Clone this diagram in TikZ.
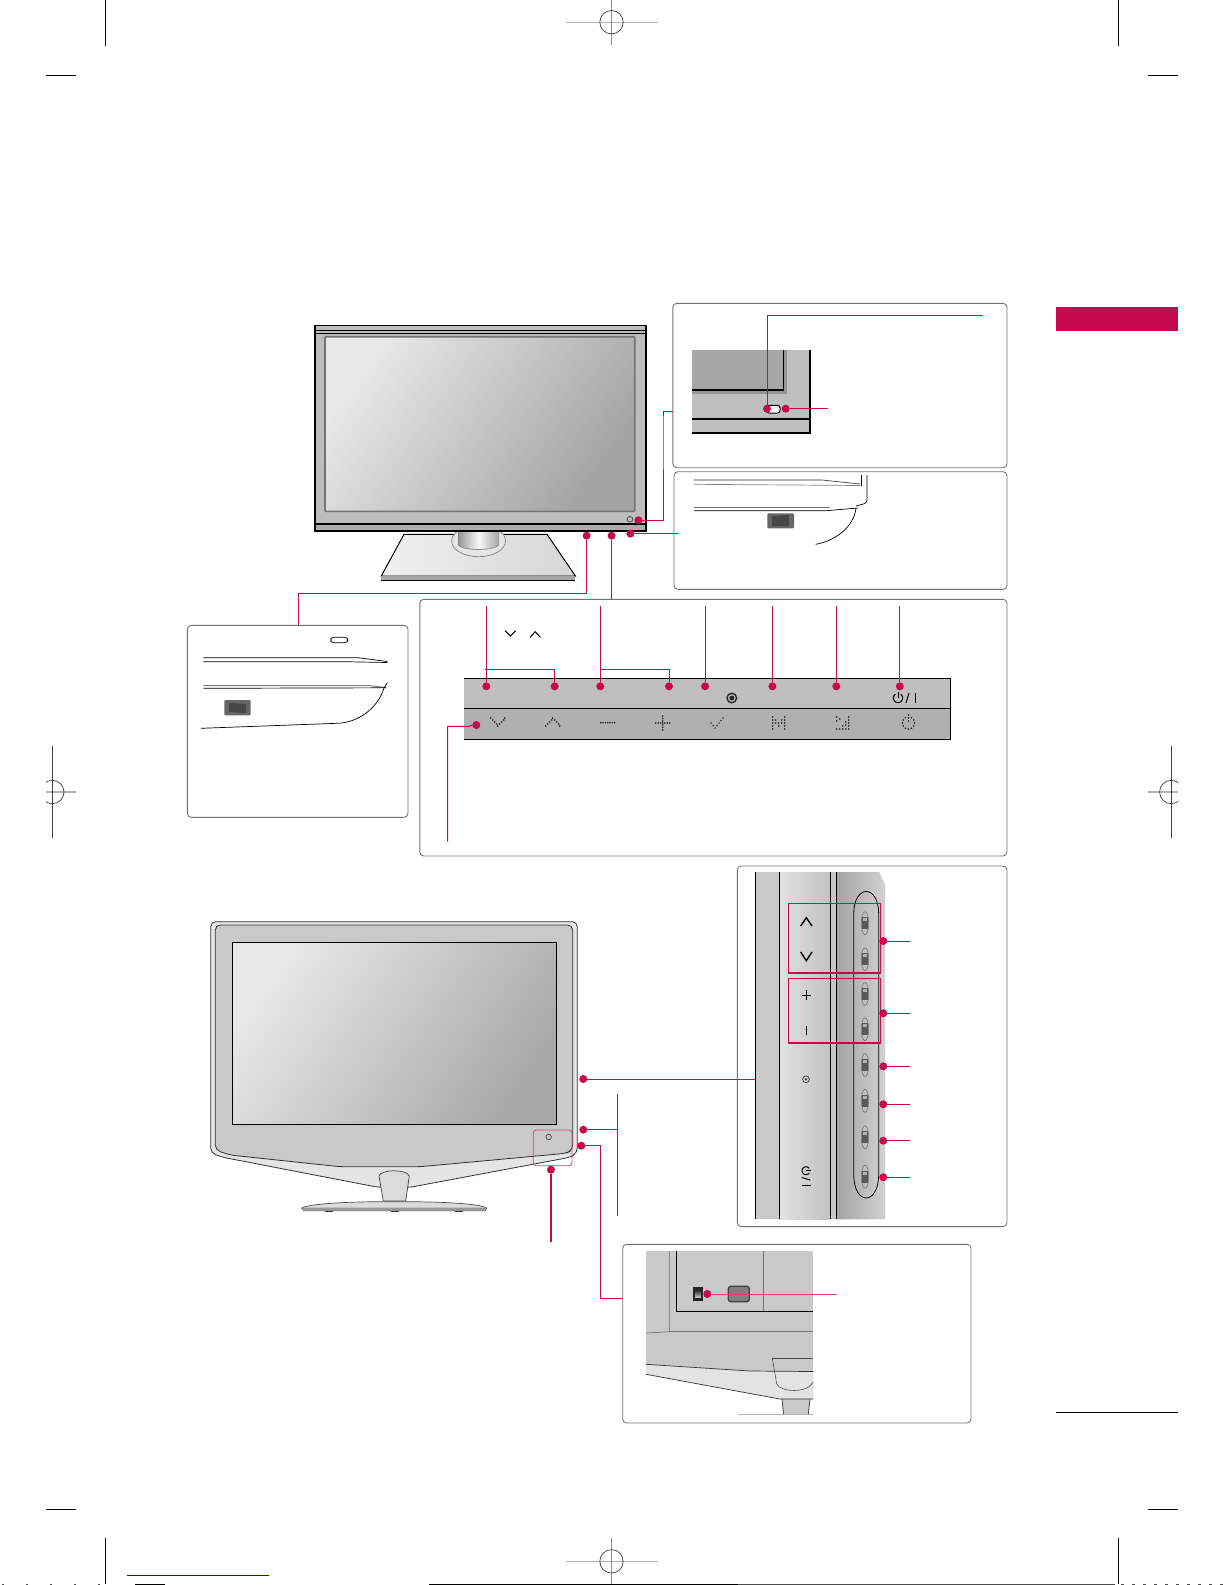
\documentclass[tikz,border=0pt]{standalone}
\definecolor{lgred}{HTML}{C60A4E}
\tikzset{
  panelbox/.style = {shape=rectangle, draw=black!55, rounded corners=4pt,
                     line width=0.9pt, inner sep=0pt, outer sep=0pt,
                     anchor=north west},
  dot/.style      = {shape=circle, fill=lgred, inner sep=0pt, outer sep=0pt,
                     minimum size=8pt},
  leader/.style   = {draw=lgred, line width=1pt},
  thinline/.style = {draw=black, line width=0.7pt},
  trimline/.style = {draw=black!75, line width=1pt},
  regline/.style  = {draw=black!30, line width=1.2pt}
}
\newcommand{\icondots}[1]{\foreach \p in {#1} \fill[black!90] \p circle (0.85);}
\newcommand{\powerglyph}{
  \draw[line width=1pt, domain=35:325, samples=24, smooth]
    plot ({4.6*sin(\x)},{-4.6*cos(\x)});
  \draw[line width=1pt] (0,-5.6) -- (0,0);
  \draw[line width=1pt] (8,5) -- (11,-5);
  \draw[line width=1.2pt] (17.3,-5.5) -- (17.3,5);
}
\begin{document}
\begin{tikzpicture}[x=1pt, y=-1pt]
  \useasboundingbox (0,0) rectangle (1225,1585);

  % trim and registration marks
  \foreach \x in {105.3,1118.3} {
    \draw[draw=black, line width=0.9pt] (\x,0) -- (\x,45.7);
    \draw[draw=black, line width=0.9pt] (\x,1538) -- (\x,1584);
  }
  \foreach \y in {75.7,1509.3} {
    \draw[draw=black, line width=0.9pt] (46,\y) -- (76,\y);
    \draw[draw=black, line width=0.9pt] (1148,\y) -- (1178,\y);
  }
  \foreach \y in {22.2,1561.3} {
    \draw[regline] (566,\y) -- (658,\y);
    \draw[draw=black!45, line width=0.7pt] (611.5,\y-23) -- (611.5,\y+23);
    \draw[draw=black!75, line width=0.7pt] (611.5,\y) circle (11.7);
  }
  \draw[regline] (46,792) -- (75.7,792);
  \draw[regline] (1148.3,792) -- (1177.7,792);
  \draw[trimline] (52.3,746) -- (52.3,837.7);
  \draw[trimline] (1171.3,746) -- (1171.3,837.7);
  \begin{scope}
    \clip (46,770) rectangle (70,815);
    \draw[draw=black!75, line width=0.7pt] (52.3,792) circle (11.7);
  \end{scope}
  \begin{scope}
    \clip (1150,770) rectangle (1178,815);
    \draw[draw=black!75, line width=0.7pt] (1171.3,792) circle (11.7);
  \end{scope}
  \draw[draw=blue, line width=1pt] (127,1575.3) -- (268.7,1575.3);
  \draw[draw=black, line width=1pt] (429,1584.5) -- (738,1584.5);
  \draw[draw=black!70, line width=1pt] (738,1584.5) -- (1115,1584.5);
  \draw[draw=black, line width=1pt] (135,1584.5) -- (165,1584.5);
  \draw[draw=black!70, line width=1pt, dash pattern=on 2pt off 22pt] (2,1584.5) -- (105,1584.5);
  \draw[draw=black!70, line width=1pt, dash pattern=on 3pt off 8pt] (1121,1584.5) -- (1225,1584.5);

  % page tab and footer rule
  \fill[lgred] (1056,307) rectangle (1178,330.5);
  \draw[draw=black, line width=0.8pt] (1056,1412.5) -- (1178,1412.5);

  % frames
  \node[panelbox, minimum width=334.2pt, minimum height=164.4pt] (boxled) at (672.8,303.3) {};
  \node[panelbox, minimum width=333pt, minimum height=117.6pt] (boxsw) at (674,471.7) {};
  \node[panelbox, minimum width=587.2pt, minimum height=256.7pt] (boxkeys) at (419.8,599.3) {};
  \node[panelbox, minimum width=220.7pt, minimum height=192pt] (boxleft) at (187.3,625.3) {};
  \node[panelbox, minimum width=269.7pt, minimum height=360.6pt] (boxside) at (737.3,866) {};
  \node[panelbox, minimum width=348.3pt, minimum height=178.7pt] (boxrear) at (622.7,1244.3) {};

  % upper set: stand
  \shade[left color=black!6, right color=black!16, draw=black, line width=1pt]
    (404,534.3) -- (547,534.3) -- (575.4,576) -- (381.3,576) -- cycle;
  \fill[black!35] (381.3,576) rectangle (575.4,580);
  \draw[draw=black, line width=1pt] (381.3,580) -- (575.4,580);
  \draw[draw=black!50, fill=black!10, line width=0.7pt] (478.6,541) ellipse (27 and 15.7);
  \shade[left color=black!40, right color=black!35, middle color=black!3, draw=black!50, line width=0.6pt]
    (458.5,530) -- (458.5,545) .. controls (462,551) and (495,551) .. (498.7,545) -- (498.7,530) -- cycle;

  % upper set: monitor
  \fill[black!26] (314.3,325.3) rectangle (646.4,530.7);
  \fill[black!32] (315,524) rectangle (646,530.7);
  \draw[draw=black, line width=1.6pt] (315,325.3) rectangle (646,530.7);
  \draw[thinline] (315,330.7) -- (646,330.7);
  \draw[draw=black, line width=1pt] (315,333.3) -- (646,333.3);
  \draw[draw=black, line width=1.6pt] (315,524) -- (646,524);
  \shade[top color=black!9, bottom color=black!36, shading angle=55, draw=black!55, line width=1.6pt, rounded corners=1pt]
    (325,336.7) rectangle (634.8,511.3);
  \draw[draw=black!70, line width=0.8pt] (630,519.3) circle (2.8);

  % led detail
  \fill[black!25] (692.4,350) rectangle (809.8,432.7);
  \fill[black!42] (692.4,350) rectangle (786.6,394);
  \fill[black!35] (692.4,350) rectangle (783.5,390);
  \draw[draw=black, line width=1.2pt] (692.4,390) -- (783.5,390) -- (783.5,350);
  \draw[draw=black, line width=1.6pt] (692.4,418.7) -- (809.8,418.7);
  \draw[draw=black, line width=1.6pt] (692.4,432.7) -- (809.8,432.7) -- (809.8,350);
  \draw[draw=black, fill=white, line width=1pt, rounded corners=2.5pt] (766.5,405.3) rectangle (780,413);

  % switch detail, side view
  \draw[draw=black!85, line width=0.6pt] (693.8,480) -- (822,480) -- (860,484);
  \draw[draw=black!50, line width=0.7pt] (693.8,484.3) -- (860,485.5);
  \draw[thinline] (861,475) -- (861,485.5);
  \draw[thinline, rounded corners=3pt] (867,475) -- (867,503) -- (856,506);
  \draw[draw=black!55, line width=0.8pt] (693.8,507.7) -- (830,507.7);
  \draw[thinline] (693.8,510.7) -- (826,510.7) -- (858,508);
  \draw[thinline] (856,508) .. controls (854,527) and (835,541) .. (815.6,544.3);
  \fill[black!60, rounded corners=1pt] (767.4,513.3) rectangle (794,528.3);
  \fill[black!72] (772,516) -- (789,515) -- (789,526) -- (772,526) -- cycle;

  % key strip
  \fill[black!25] (464,678.3) rectangle (950.6,708.3);
  \fill[black!31] (464,708.3) rectangle (950.6,739.3);
  \draw[draw=black, line width=1pt] (464,678.3) -- (950.6,678.3) -- (950.6,739.3) -- (464,739.3);
  \draw[draw=black, line width=1pt] (464,708.3) -- (950.6,708.3);
  \draw[draw=black, line width=1pt] (505,630.7) -- (510.3,636) -- (515.6,630.7);
  \draw[draw=black, line width=1pt] (530,637.3) -- (535.2,631.7) -- (540.5,637.3);
  \draw[draw=black!85, line width=1.4pt] (731.8,698) circle (4.8);
  \fill[black!85] (731.8,698) circle (2.5);
  \begin{scope}[shift={(898,698)}]
    \powerglyph
  \end{scope}
  \begin{scope}[shift={(497.7,722)}]
    \icondots{(-7,-4),(-5,-2),(-3,0),(-1,2),(0,4),(2,2),(4,0),(6,-2),(7,-4)}
  \end{scope}
  \begin{scope}[shift={(552.7,722)}]
    \icondots{(-7,4),(-5,2),(-3,0),(-1,-2),(0,-4),(2,-2),(4,0),(6,2),(7,4)}
  \end{scope}
  \begin{scope}[shift={(607.7,722.7)}]
    \icondots{(-7,0),(-4.7,0),(-2.3,0),(0,0),(2.3,0),(4.7,0),(7,0)}
  \end{scope}
  \begin{scope}[shift={(662.7,723)}]
    \icondots{(-7,0),(-4.5,0),(-2,0),(0,0),(2,0),(4.5,0),(7,0),(0,-7),(0,-4.5),(0,-2),(0,2),(0,4.5),(0,7)}
  \end{scope}
  \begin{scope}[shift={(717.1,723)}]
    \icondots{(-6,0),(-4,2.5),(-2,5),(0,2.5),(2,0),(4,-2.5),(6,-5)}
  \end{scope}
  \begin{scope}[shift={(778.8,723)}]
    \icondots{(-6,-6),(-6,-3),(-6,0),(-6,3),(-6,6),(6,-6),(6,-3),(6,0),(6,3),(6,6),(-3,-3),(0,0),(3,-3),(-3,0),(3,0),(0,3)}
  \end{scope}
  \begin{scope}[shift={(842.7,723)}]
    \icondots{(-6,-6),(-3,-4),(-6,-2),(6,-6),(6,-3),(6,0),(6,3),(6,6),(-6,6),(-3,6),(0,6),(3,6),(3,2),(0,3),(3,-1)}
  \end{scope}
  \begin{scope}[shift={(908.5,723)}]
    \icondots{(-6,0),(-5.2,3),(-3,5.2),(0,6),(3,5.2),(5.2,3),(6,0),(5.2,-3),(3,-5.2),(-3,-5.2),(-5.2,-3),(0,-8),(0,-5),(0,-2)}
  \end{scope}

  % left detail
  \draw[thinline, rounded corners=3pt] (330.7,637.3) rectangle (347.7,642.7);
  \draw[thinline] (203.3,657.7) -- (358,657.7) -- (387.3,661.5);
  \draw[thinline] (203.3,661.7) -- (345,661.7) -- (387.3,662.5);
  \draw[draw=black!50, line width=1pt] (203.3,685.7) -- (370,685.7) -- (386,687.5);
  \draw[thinline] (203.3,688.3) -- (386,687.8);
  \fill[black!60, rounded corners=1pt] (224.3,700) rectangle (250.7,715.3);
  \fill[black!72] (229,703) -- (246,704) -- (246,713) -- (229,712) -- cycle;
  \draw[thinline] (387.3,682.7) -- (384,688) .. controls (378,708) and (358,723) .. (336.7,723.3) -- (201,728.3);

  % side key column
  \fill[black!21] (755.3,872) rectangle (779.3,1219.3);
  \shade[left color=black!12, right color=black!24] (779.3,872) rectangle (830.3,1219.3);
  \fill[black!22] (830.3,872) rectangle (836.3,1219.3);
  \shade[left color=black!36, right color=black!18] (836.3,872) -- (879.3,872) -- (885,885) -- (885,1219.3) -- (836.3,1219.3) -- cycle;
  \foreach \x in {755.3,779.3,830.3,836.3}
    \draw[draw=black, line width=0.9pt] (\x,872) -- (\x,1219.3);
  \draw[draw=black, line width=0.8pt] (853.7,914) .. controls (853.7,884) and (878.7,884) .. (878.7,914)
    -- (878.7,1174) .. controls (878.7,1206) and (853.7,1206) .. (853.7,1174) -- cycle;
  \foreach \y in {923.3,959.3,994,1029.3,1065,1100.7,1137.3,1176.7} {
    \draw[draw=black!60, fill=black!25, line width=0.5pt] (865,\y) ellipse (3.7 and 11.5);
    \fill[black!65] (861.8,\y-6) rectangle (868.2,\y+6);
    \fill[black!30] (863.4,\y-5) rectangle (866.6,\y-2);
  }
  \draw[draw=black, line width=1.4pt] (800.7,926) -- (806.3,917.7) -- (812,926);
  \draw[draw=black, line width=1.4pt] (800.7,952) -- (806.3,960.7) -- (812,952);
  \draw[draw=black, line width=0.9pt] (801.5,995) -- (811,995);
  \draw[draw=black, line width=0.9pt] (806.3,990) -- (806.3,1000);
  \draw[draw=black, line width=0.9pt] (806.3,1026) -- (806.3,1035);
  \draw[draw=black!80, line width=0.7pt] (806,1079.3) circle (3.4);
  \fill[black!80] (806,1079.3) circle (1.3);
  \begin{scope}[shift={(806,1170.7)}, rotate=-90, scale=0.85]
    \powerglyph
  \end{scope}
  \draw[draw=lgred, line width=1.5pt] (788.7,903.3) rectangle (880.3,973);
  \draw[draw=lgred, line width=1.5pt] (788.7,978.3) rectangle (880.3,1043);

  % lower set: monitor
  \draw[draw=black!80, fill=black!10, line width=0.8pt, rounded corners=5pt]
    (210.7,921.7) -- (577.3,921.7) -- (577.3,1153) -- (570,1157.3) -- (410,1187.3)
    -- (378.3,1187.3) -- (223,1157.3) -- (210.7,1153) -- cycle;
  \draw[draw=black!80, fill=black!21, line width=0.8pt, rounded corners=5pt]
    (215.3,925) -- (572.7,925) -- (572.7,1150) -- (566,1153.3) -- (420,1166.7)
    -- (340,1166.7) -- (230,1155) -- (215.3,1150) -- cycle;
  \shade[top color=black!9, bottom color=black!34, shading angle=55, draw=black, line width=1pt]
    (232.3,942.3) rectangle (556.7,1124.3);
  \draw[draw=black!75, line width=0.7pt] (548.7,1137) circle (2.7);
  \draw[draw=black!75, fill=black!14, line width=0.7pt]
    (383.3,1201) -- (379,1176) .. controls (381,1169) and (407,1169) .. (409.3,1176) -- (405.7,1201) -- cycle;
  \draw[draw=black!70, fill=black!14, line width=0.7pt]
    (301.7,1208) .. controls (310,1203.5) and (350,1201.7) .. (383,1201.7) -- (405,1201.7)
    .. controls (440,1201.7) and (480,1203.5) .. (486.7,1208) -- (485,1210.7) -- (304,1210.7) -- cycle;
  \fill[black!40] (303,1207.5) -- (485.5,1207.5) -- (485,1210.7) -- (304,1210.7) -- cycle;
  \foreach \x in {329,395,459}
    \fill[black!80] (\x-4,1210.7) rectangle (\x+4,1212.4);
  \draw[draw=lgred!75, line width=0.8pt, rounded corners=3pt] (533.3,1130) rectangle (572,1165.7);

  % rear switch detail
  \fill[black!21] (646,1251) rectangle (813.3,1371.5);
  \fill[black!11] (646,1364.3) -- (750,1371) -- (813.3,1371.5) -- (813.3,1399) -- (780,1399) -- (646,1374.3) -- cycle;
  \fill[black!21] (782,1399) -- (810,1399) -- (808.3,1414) -- (783.5,1414) -- cycle;
  \draw[draw=black!55, line width=0.7pt] (669.3,1251) -- (669.3,1331.7) -- (646,1333);
  \draw[draw=black!55, line width=0.7pt] (669.3,1331.7) -- (813.3,1331.7);
  \draw[draw=black!55, line width=0.7pt] (763.3,1251) -- (763.3,1311.7);
  \draw[draw=black, line width=0.8pt] (676.3,1251) -- (676.3,1311.7) -- (813.3,1311.7);
  \draw[draw=black!80, line width=0.7pt] (646,1364.3) -- (750,1371) -- (813.3,1371.5);
  \draw[draw=black!80, line width=0.7pt] (646,1374.3) -- (780,1399) -- (813.3,1399);
  \draw[draw=black!70, line width=0.6pt] (772.3,1358.3) -- (813.3,1358.3);
  \draw[draw=black!70, line width=0.6pt] (772.3,1358.3) -- (776.7,1384)
    .. controls (780,1392) and (808,1394) .. (813.3,1381.7);
  \draw[draw=black!80, line width=0.7pt] (782,1399) -- (783.5,1414);
  \draw[draw=black!80, line width=0.7pt] (810,1399) -- (808.3,1414);
  \draw[draw=black!30, line width=0.6pt] (738,1414) -- (813.3,1414);
  \fill[black!85] (693,1287.3) rectangle (703,1300.7);
  \shade[top color=black!85, bottom color=black!25] (695,1290) rectangle (701,1297);
  \draw[draw=black!75, fill=black!50, line width=1.3pt, rounded corners=2.5pt] (728.3,1286.3) rectangle (749.3,1301.7);

  % callout dots
  \node[dot] (dotpow)   at (638.4,520.3) {};
  \node[dot] (dotsw)    at (586.6,535.7) {};
  \node[dot] (dotkeys)  at (611.6,535.7) {};
  \node[dot] (dotside)  at (630.4,533.7) {};
  \node[dot] (dotled)   at (767,408.7) {};
  \node[dot] (dotir)    at (785.7,408.7) {};
  \node[dot] (dotstrip) at (476.3,725) {};
  \node[dot] (dotcol)   at (583.3,1079) {};
  \node[dot] (dotspk)   at (583.3,1129.7) {};
  \node[dot] (dotrear)  at (581.3,1145.7) {};
  \node[dot] (dotlow)   at (551,1169.7) {};
  \node[dot] (dotmain)  at (707.3,1294) {};
  \foreach \i/\x in {1/486.3,2/554.7,3/600.3,4/669,5/705.1,6/772.4,7/836.3,8/899.8}
    \node[dot] (key\i) at (\x,686.3) {};
  \foreach \i/\y in {1/941,2/1013.3,3/1066.3,4/1104.3,5/1140.7,6/1177.3} {
    \node[dot] (col\i) at (883.3,\y) {};
    \coordinate (colend\i) at (910,\y);
    \draw[leader] (col\i) -- (colend\i);
  }

  % free ends of the connectors
  \coordinate (ledin) at (672.8,411.3);
  \coordinate (ledkink) at (663,420);
  \coordinate (swin) at (678,533.7);
  \coordinate (leftkink) at (586.6,593.3);
  \coordinate (leftin) at (298.3,625.3);
  \coordinate (keysin) at (611.6,599.3);
  \coordinate (ledtop) at (983,315.3);
  \coordinate (irend) at (828,408.7);
  \coordinate (stripend) at (447.7,841.7);
  \coordinate (branchA) at (485.3,669.3);
  \coordinate (branchB) at (600.3,669.3);
  \coordinate (colin) at (755.3,1079);
  \coordinate (spkend) at (616.5,1129.7);
  \coordinate (brackettop) at (617.3,1094);
  \coordinate (bracketlow) at (617.3,1215.7);
  \coordinate (lowend) at (551,1241.7);
  \coordinate (rearkink) at (600.7,1298.3);
  \coordinate (rearin) at (622.7,1298.3);
  \coordinate (mainend) at (836.7,1294);
  \foreach \i/\x in {1/486.3,3/600.3,5/705.1,6/772.4,7/836.3,8/899.8} {
    \coordinate (keytop\i) at (\x,606);
    \draw[leader] (keytop\i) -- (key\i);
  }

  % connectors
  \draw[leader] (dotpow) -| (ledkink) |- (ledin);
  \draw[leader] (dotside) -- (swin);
  \draw[leader] (dotsw) -- (leftkink) -| (leftin);
  \draw[leader] (dotkeys) -- (keysin);
  \draw[leader] (dotled) |- (ledtop);
  \draw[leader] (dotir) -- (irend);
  \draw[leader] (branchA) -| (key2);
  \draw[leader] (branchB) -| (key4);
  \draw[leader] (dotstrip.west) -- ++(-3,1.3) -| (stripend);
  \draw[leader] (dotcol) -- (colin);
  \draw[leader] (dotspk) -- (spkend);
  \draw[leader] (brackettop) -- (bracketlow);
  \draw[leader] (dotrear) -| (rearkink) -- (rearin);
  \draw[leader, line width=1.4pt] (dotlow) -- (lowend);
  \draw[draw=lgred!75, line width=1pt] (dotmain) -- (mainend);
\end{tikzpicture}
\end{document}
